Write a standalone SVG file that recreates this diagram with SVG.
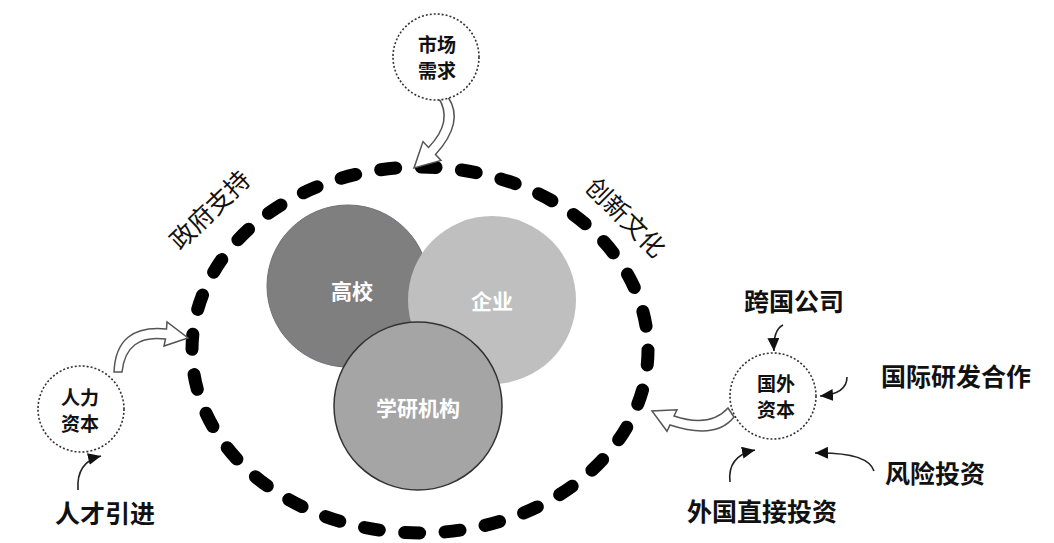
<svg xmlns="http://www.w3.org/2000/svg" width="1054" height="543" viewBox="0 0 1054 543">
<style>
.lbl{font-family:"Noto Sans CJK SC","Noto Sans CJK TC",sans-serif;fill:#111;dominant-baseline:central;text-anchor:middle}
.big{font-size:25px;font-weight:600}
.rot{font-size:25px;font-weight:400}
.sm{font-size:19px;font-weight:600}
.in{font-family:"Noto Sans CJK SC",sans-serif;font-size:21px;font-weight:600;fill:#fff;dominant-baseline:central;text-anchor:middle}
.dot{fill:#fff;stroke:#333;stroke-width:1.6;stroke-dasharray:2 2}
.hollow{fill:#fff;stroke:#555;stroke-width:1.5;stroke-linejoin:miter}
.thin{fill:none;stroke:#222;stroke-width:1.6}
</style>
<defs>
<marker id="ah" markerUnits="userSpaceOnUse" markerWidth="14" markerHeight="12" refX="13" refY="6" orient="auto">
<path d="M0,0 L13,6 L0,12 Z" fill="#111"/>
</marker>
</defs>
<rect width="1054" height="543" fill="#fff"/>
<g id="boundary">
<ellipse cx="420" cy="350" rx="228" ry="183" fill="none" stroke="#000" stroke-width="13" stroke-linecap="round" stroke-dasharray="15 25.5"/>
</g>
<g id="gaoxiao"><circle cx="348" cy="286" r="81" fill="#7f7f7f" stroke="#6f6f78" stroke-width="1"/><text class="in" x="352" y="290">高校</text></g>
<g id="qiye"><circle cx="492" cy="300" r="84" fill="#bfbfbf"/><text class="in" x="492" y="300">企业</text></g>
<g id="xueyan"><circle cx="418" cy="406" r="84" fill="#a5a5a5" stroke="#333" stroke-width="1.5"/><text class="in" x="418" y="407">学研机构</text></g>
<g id="zhengfu"><text class="lbl rot" transform="translate(208.5 208.5) rotate(-44)">政府支持</text></g>
<g id="chuangxin"><text class="lbl rot" transform="translate(627 216) rotate(45)">创新文化</text></g>
<g id="connectors">
<path class="hollow" d="M 438 97 Q 454 121 428.5 147.4 L 423 141.6 L 414 168 L 441 160.4 L 435.5 154.6 Q 465 122 448 97 Z"/>
<path class="hollow" d="M 114 372 Q 116 324 166.5 329 L 167 322 L 188 338 L 164 346 L 165.5 339 Q 126 334 122 372 Z"/>
<path class="hollow" d="M 728 408 Q 710 428 674 416 L 677 409.7 L 652 411 L 667 431.3 L 670 425 Q 716 440 734 417 Z"/>
<path class="thin" d="M 783 325 Q 773 330 774 351" marker-end="url(#ah)"/>
<path class="thin" d="M 847 377 Q 847 394 820 396" marker-end="url(#ah)"/>
<path class="thin" d="M 874 471 Q 868 452 815 453" marker-end="url(#ah)"/>
<path class="thin" d="M 730 482 Q 727 456 755 450" marker-end="url(#ah)"/>
<path class="thin" d="M 78 490 Q 76 462 101 456" marker-end="url(#ah)"/>
</g>
<g id="shichang"><circle class="dot" cx="436" cy="57" r="43"/><text class="lbl sm" x="437" y="43">市场</text><text class="lbl sm" x="437" y="69">需求</text></g>
<g id="renli"><circle class="dot" cx="81" cy="409" r="43"/><text class="lbl sm" x="80" y="396">人力</text><text class="lbl sm" x="80" y="422">资本</text></g>
<g id="guowai"><circle class="dot" cx="773" cy="396" r="43"/><text class="lbl sm" x="776" y="382">国外</text><text class="lbl sm" x="776" y="408">资本</text></g>
<g id="kuaguo"><text class="lbl big" x="794" y="300">跨国公司</text></g>
<g id="guoji"><text class="lbl big" x="956" y="375">国际研发合作</text></g>
<g id="fengxian"><text class="lbl big" x="935" y="472">风险投资</text></g>
<g id="waiguo"><text class="lbl big" x="762" y="510">外国直接投资</text></g>
<g id="rencai"><text class="lbl big" x="105" y="512">人才引进</text></g>
</svg>
